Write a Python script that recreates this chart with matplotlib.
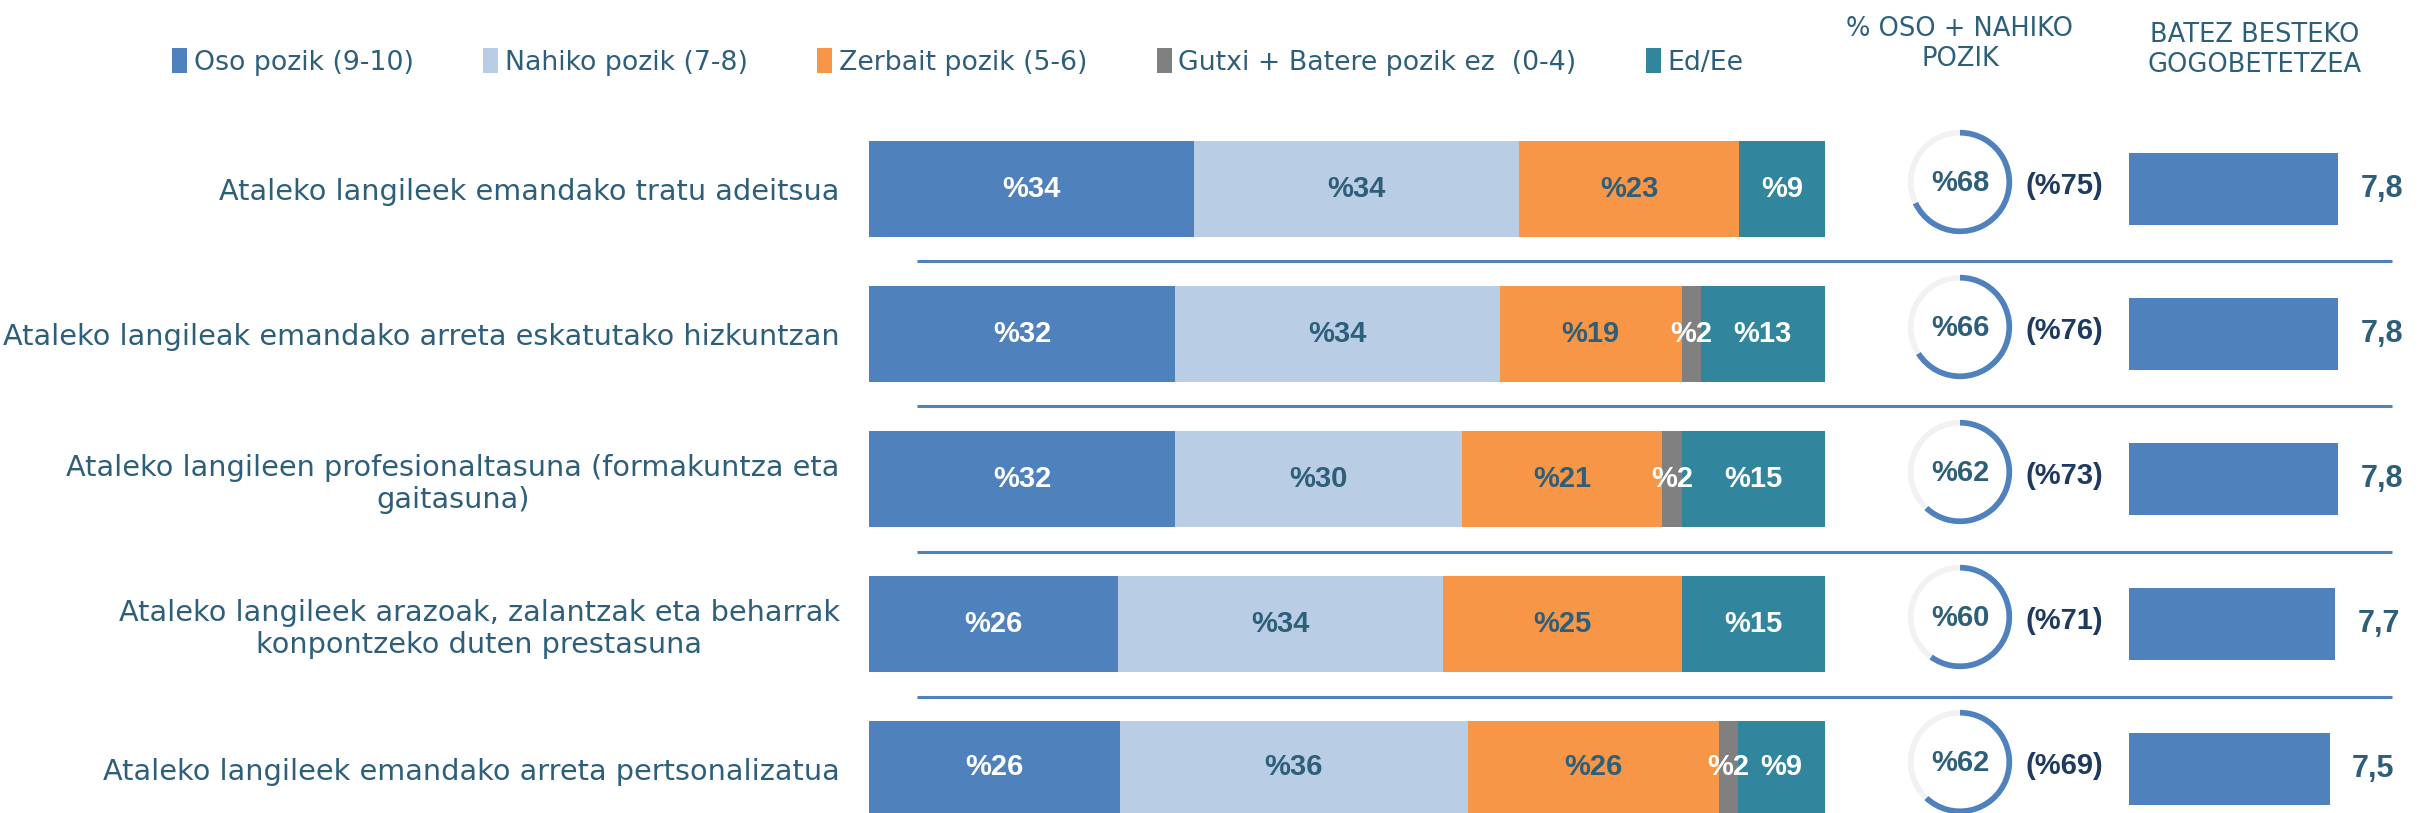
import matplotlib
matplotlib.use("Agg")
import matplotlib.pyplot as plt
from matplotlib.patches import Patch

# data
items = [
    "Ataleko langileek emandako tratu adeitsua",
    "Ataleko langileak emandako arreta eskatutako hizkuntzan",
    "Ataleko langileen profesionaltasuna (formakuntza eta\ngaitasuna)",
    "Ataleko langileek arazoak, zalantzak eta beharrak\nkonpontzeko duten prestasuna",
    "Ataleko langileek emandako arreta pertsonalizatua",
]
categories = ["Oso pozik (9-10)", "Nahiko pozik (7-8)", "Zerbait pozik (5-6)",
              "Gutxi + Batere pozik ez  (0-4)", "Ed/Ee"]
oso = [34, 32, 32, 26, 26]
nahiko = [34, 34, 30, 34, 36]
zerbait = [23, 19, 21, 25, 26]
gutxi = [0, 2, 2, 0, 2]
ed_ee = [9, 13, 15, 15, 9]
oso_nahiko = [68, 66, 62, 60, 62]
prev_oso_nahiko = [75, 76, 73, 71, 69]
mean_score = [7.8, 7.8, 7.8, 7.7, 7.5]

colors = ["#4F81BD", "#B9CDE5", "#F79646", "#808080", "#31859C"]
label_colors = ["white", "#2E5F7A", "#2E5F7A", "white", "white"]
TXT = "#2E5F7A"
NAVY = "#1F3A5F"
NUM = "Liberation Sans"

W, H = 2423, 813
fig = plt.figure(figsize=(W / 100, H / 100), dpi=100)
plt.rcParams["font.family"] = ["DejaVu Sans"]


def px_axes(x0, y0, x1, y1, **kw):
    a = fig.add_axes([x0 / W, 1 - y1 / H, (x1 - x0) / W, (y1 - y0) / H], **kw)
    a.patch.set_alpha(0)
    return a


row0, step = 189, 145
ylim = ((H - row0) / step, -0.5)
top = row0 - 0.5 * step

# separator lines
bg = px_axes(0, top, W, H)
bg.set_xlim(0, W)
bg.set_ylim(*ylim)
bg.hlines([i + 0.5 for i in range(len(items) - 1)], 917, 2392, color="#4F81BD", lw=2.2)
bg.axis("off")

# stacked bars
ax = px_axes(869, top, 1825, H)
series = [oso, nahiko, zerbait, gutxi, ed_ee]
ypos = list(range(len(items)))
totals = [sum(s[i] for s in series) for i in ypos]
left = [0.0] * len(items)
for k, s in enumerate(series):
    w = [s[i] / totals[i] * 100 for i in ypos]
    bars = ax.barh(ypos, w, left=left, height=0.66, color=colors[k])
    ax.bar_label(bars, labels=[f"%{v}" if v else "" for v in s], label_type="center",
                 color=label_colors[k], fontsize=21, fontweight="bold", family=NUM)
    left = [left[i] + w[i] for i in ypos]
ax.set_xlim(0, 100)
ax.set_ylim(*ylim)
ax.set_yticks(ypos)
ax.set_yticklabels(items, fontsize=20.7, color=TXT, linespacing=1.2)
for t in ax.get_yticklabels():
    t.set_multialignment("center")
ax.tick_params(axis="y", length=0, pad=21)
ax.set_xticks([])
for sp in ax.spines.values():
    sp.set_visible(False)

# rings
for i, v in enumerate(oso_nahiko):
    cy = row0 + i * step - 7
    r = px_axes(1900, cy - 60, 2020, cy + 60)
    r.pie([v, 100 - v], colors=["#4F81BD", "#F2F2F2"], startangle=90, counterclock=False,
          radius=1, wedgeprops=dict(width=0.11, edgecolor="none"))
    r.set_xlim(-1.15, 1.15)
    r.set_ylim(-1.15, 1.15)
    r.text(0, -0.02, f"%{v}", ha="center", va="center", fontsize=21, fontweight="bold",
           color=TXT, family=NUM)
    r.text(2.0, -0.08, f"(%{prev_oso_nahiko[i]})", ha="center", va="center", fontsize=21,
           fontweight="bold", color=NAVY, family=NUM, clip_on=False)

# mean score bars
ax2 = px_axes(2129, top, 2397, H)
bars2 = ax2.barh(ypos, mean_score, height=0.49, color="#4F81BD")
ax2.bar_label(bars2, labels=[f"{v:.1f}".replace(".", ",") for v in mean_score], padding=16,
              color=TXT, fontsize=22, fontweight="bold", family=NUM)
ax2.set_xlim(0, 10)
ax2.set_ylim(*ylim)
ax2.axis("off")

# headers
fig.text(1960 / W, 1 - 44 / H, "% OSO + NAHIKO\nPOZIK", ha="center", va="center",
         fontsize=18.5, color=TXT, linespacing=1.2)
fig.text(2255 / W, 1 - 50 / H, "BATEZ BESTEKO\nGOGOBETETZEA", ha="center", va="center",
         fontsize=18.5, color=TXT, linespacing=1.2)

# legend
handles = [Patch(facecolor=c, edgecolor="none") for c in colors]
fig.legend(handles, categories, ncol=5, loc="center left", bbox_to_anchor=(148 / W, 1 - 62 / H),
           frameon=False, fontsize=19.3, labelcolor=TXT, handlelength=0.55, handleheight=1.05,
           handletextpad=0.25, columnspacing=2.6)

fig.savefig("out.png", dpi=100)
